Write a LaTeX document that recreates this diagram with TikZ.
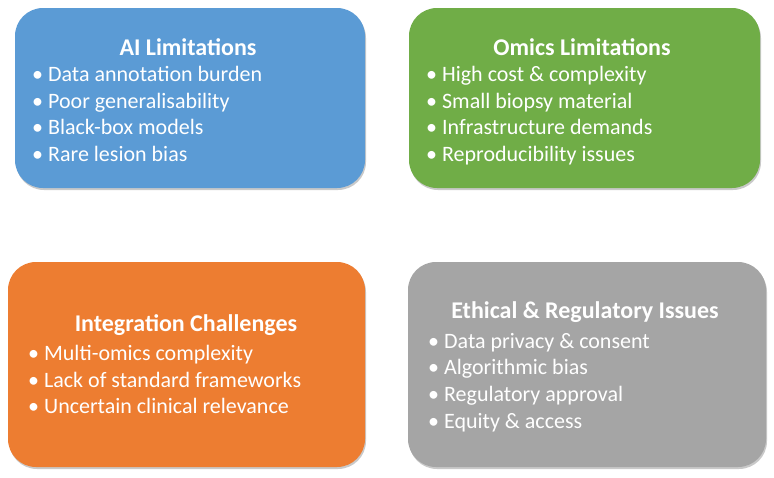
\documentclass[tikz,border=0pt]{standalone}
\usepackage{fontspec}
\setmainfont{Carlito}
\usetikzlibrary{shadows}
\definecolor{cblue}{HTML}{5B9BD5}
\definecolor{cgreen}{HTML}{70AD47}
\definecolor{corange}{HTML}{ED7D31}
\definecolor{cgray}{HTML}{A5A5A5}
\tikzset{
  card/.style={rounded corners=28pt, draw=none, inner sep=0pt,
    drop shadow={shadow xshift=1pt, shadow yshift=-2pt, opacity=0.35, fill=black!60}},
  ttl/.style={text=white, font=\fontsize{24}{27}\selectfont\bfseries, anchor=center, inner sep=0pt},
  blist/.style={text=white, font=\fontsize{22}{26.6}\selectfont, anchor=north west, align=left, inner sep=0pt},
}
\begin{document}
\begin{tikzpicture}[x=1pt,y=-1pt]
\useasboundingbox (0,0) rectangle (774,477);
\fill[white] (0,0) rectangle (774,477);
% boxes
\path[card, fill=cblue] (15,8) rectangle (365,188);
\path[card, fill=cgreen] (409,8) rectangle (760,188);
\path[card, fill=corange] (8,262) rectangle (365,467);
\path[card, fill=cgray] (408,262) rectangle (766,467);
% titles
\node[ttl] (t1) at (188,47) {AI Limitations};
\node[ttl] (t2) at (582,47) {Omics Limitations};
\node[ttl] (t3) at (186,325) {Integration Challenges};
\node[ttl] (t4) at (585,312) {Ethical \& Regulatory Issues};
% lists
\node[blist] (l1) at (32,66) {• Data annotation burden\\• Poor generalisability\\• Black-box models\\• Rare lesion bias};
\node[blist] (l2) at (426,66) {• High cost \& complexity\\• Small biopsy material\\• Infrastructure demands\\• Reproducibility issues};
\node[blist] (l3) at (28,345) {• Multi-omics complexity\\• Lack of standard frameworks\\• Uncertain clinical relevance};
\node[blist] (l4) at (428,333) {• Data privacy \& consent\\• Algorithmic bias\\• Regulatory approval\\• Equity \& access};
\end{tikzpicture}
\end{document}
